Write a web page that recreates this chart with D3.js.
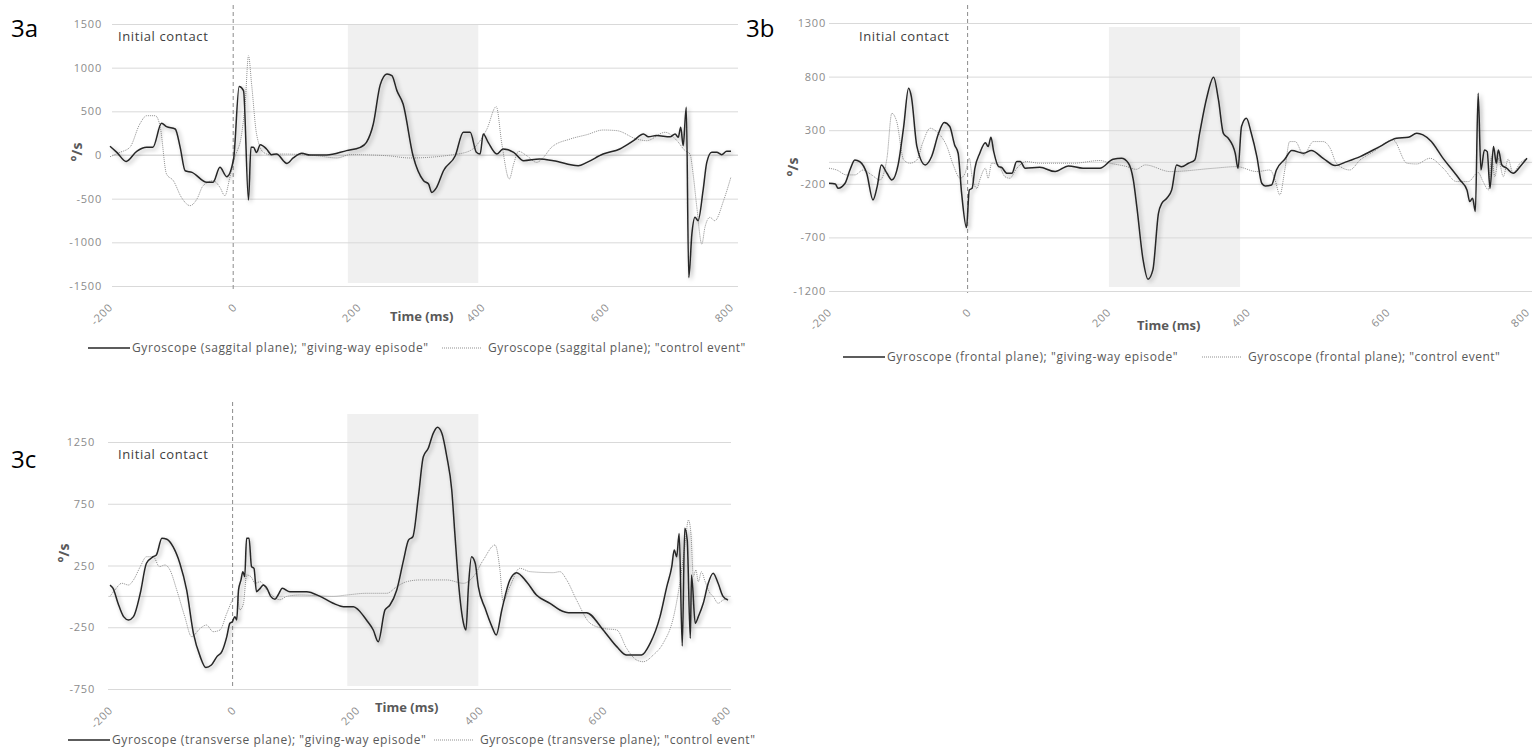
<!DOCTYPE html>
<html>
<head>
<meta charset="utf-8">
<script src="https://cdn.jsdelivr.net/npm/d3@7"></script>
<style>
  body { margin: 0; background: #fff; }
  svg text { font-family: "Open Sans", sans-serif; }
</style>
</head>
<body>
<div id="chart"></div>
<script>
const width = 1533;
const height = 750;

// x axis (ms) and y ticks (deg/s)
const xTicks = [-200, 0, 200, 400, 600, 800];
const yTicksA = [-1500, -1000, -500, 0, 500, 1000, 1500];
const yTicksB = [-1200, -700, -200, 300, 800, 1300];
const yTicksC = [-750, -250, 250, 750, 1250];

// giving-way window (ms) and its vertical extent (deg/s)
const shadeA = [183, 393, -1466, 1489];
const shadeB = [201, 389, -1163, 1263];
const shadeC = [184, 396, -726, 1477];

// [time ms, deg/s]
const sagittalGiving = [[-200,100],[-189,30],[-174,-73],[-157,42],[-141,88],[-131,88],[-117,363],[-109,325],[-95,298],[-87,88],[-79,-180],[-68,-199],[-44,-313],[-34,-313],[-23,-141],[-12,-248],[-1,-46],[8,783],[15,737],[23,-516],[27,88],[31,88],[36,30],[42,118],[52,69],[60,4],[68,11],[85,-96],[95,-34],[109,19],[122,0],[149,0],[181,50],[203,88],[213,145],[224,355],[235,800],[246,928],[254,909],[262,737],[272,584],[288,-8],[305,-294],[313,-332],[318,-428],[326,-370],[337,-180],[356,-8],[369,260],[380,260],[390,31],[396,11],[401,241],[409,145],[423,11],[433,69],[450,31],[466,-65],[492,-46],[514,-65],[554,-122],[568,-84],[594,11],[621,69],[643,164],[659,241],[667,210],[680,222],[702,210],[710,241],[715,202],[719,317],[723,107],[728,546],[732,-1402],[737,-905],[742,-714],[747,-752],[755,-409],[761,-84],[769,31],[777,31],[785,4],[793,42],[800,42]];
const sagittalControl = [[-200,-20],[-184,30],[-168,88],[-152,355],[-141,450],[-127,450],[-119,317],[-109,-218],[-98,-294],[-85,-485],[-71,-580],[-60,-504],[-50,-351],[-34,-294],[-23,-370],[-15,-466],[-7,-256],[1,-27],[12,241],[18,623],[23,1138],[28,814],[36,241],[47,31],[58,4],[79,11],[133,-8],[165,-34],[187,4],[246,-8],[283,-34],[353,4],[380,50],[396,164],[407,298],[422,554],[431,126],[443,-275],[450,-103],[458,42],[471,-8],[487,-84],[498,-27],[511,88],[541,183],[568,233],[594,286],[616,279],[648,183],[664,164],[694,260],[713,164],[726,50],[734,11],[739,-218],[745,-600],[753,-1020],[758,-829],[766,-714],[774,-752],[788,-523],[800,-250]];

const frontalGiving = [[-200,-195],[-191,-201],[-187,-242],[-177,-195],[-170,-71],[-163,23],[-156,7],[-146,-102],[-137,-350],[-131,-226],[-125,-24],[-117,-102],[-110,-164],[-101,-24],[-93,334],[-86,691],[-82,613],[-74,147],[-62,-24],[-53,54],[-43,271],[-35,371],[-27,334],[-20,163],[-15,85],[-10,-288],[-3,-608],[1,-257],[5,-242],[9,-55],[16,85],[24,184],[28,147],[32,234],[36,100],[43,-40],[47,-46],[55,-102],[62,-102],[69,7],[74,7],[81,-55],[102,-46],[124,-86],[143,-33],[164,-55],[188,-55],[207,29],[219,38],[229,-8],[236,-164],[241,-413],[250,-910],[257,-1090],[264,-1003],[272,-475],[277,-381],[284,-335],[291,-257],[298,-24],[305,-40],[315,-8],[324,23],[331,271],[341,598],[351,794],[358,582],[365,271],[372,225],[382,85],[386,-55],[391,334],[398,411],[405,271],[413,54],[420,-195],[425,-220],[434,-211],[441,-71],[453,29],[463,110],[480,85],[491,110],[508,38],[525,-30],[542,7],[561,54],[589,147],[613,225],[630,234],[642,271],[651,256],[663,194],[678,54],[704,-164],[714,-257],[718,-366],[722,-335],[726,-459],[730,644],[734,-71],[739,116],[743,100],[747,-242],[752,147],[756,-8],[759,116],[764,-24],[771,-55],[780,-102],[792,-24],[800,38]];
const frontalControl = [[-200,-55],[-189,-71],[-175,-117],[-163,-117],[-151,-71],[-139,-117],[-127,-164],[-117,38],[-110,458],[-103,380],[-93,23],[-84,-8],[-74,23],[-66,178],[-55,318],[-46,287],[-31,147],[-22,-24],[-12,-148],[-5,-102],[1,38],[5,-133],[12,-242],[16,-164],[24,-55],[28,-148],[33,-8],[43,-24],[52,-133],[59,-148],[69,-55],[83,7],[102,-8],[150,-8],[188,17],[203,-8],[227,-40],[240,-65],[253,-24],[289,-86],[351,-55],[384,-40],[413,-86],[432,-71],[439,-164],[446,-304],[453,-71],[460,194],[468,194],[480,69],[494,194],[508,194],[518,132],[527,-8],[546,-71],[561,23],[580,100],[608,209],[628,-8],[642,-15],[661,38],[680,-55],[699,-179],[716,-179],[730,-95],[737,-179],[745,-257],[749,54],[754,-133],[759,38],[766,-133],[773,29],[780,-102],[790,-8],[800,38]];

const transverseGiving = [[-200,92],[-195,65],[-187,-56],[-178,-164],[-170,-191],[-162,-164],[-151,25],[-141,268],[-130,321],[-125,335],[-116,470],[-108,462],[-98,402],[-87,268],[-76,52],[-65,-299],[-54,-488],[-45,-575],[-36,-556],[-27,-488],[-19,-448],[-11,-326],[-6,-218],[-2,-205],[2,-164],[5,-191],[8,52],[12,133],[15,200],[18,160],[21,470],[25,470],[29,241],[33,227],[37,38],[43,65],[48,92],[54,65],[60,0],[67,-24],[72,11],[79,65],[91,38],[118,38],[140,0],[161,-56],[178,-83],[194,-83],[202,-110],[215,-191],[226,-272],[234,-367],[245,-110],[253,-70],[264,52],[275,294],[283,456],[290,483],[299,807],[307,1131],[315,1199],[323,1320],[330,1369],[337,1320],[345,1131],[353,861],[358,510],[364,106],[372,-218],[376,-272],[380,79],[385,321],[391,268],[396,79],[407,-97],[418,-245],[425,-313],[434,-110],[447,133],[458,192],[474,119],[490,11],[512,-56],[528,-110],[542,-132],[571,-132],[598,-272],[620,-407],[636,-475],[660,-475],[674,-380],[690,-164],[701,79],[709,241],[713,375],[717,321],[721,510],[726,-402],[730,551],[734,456],[739,-340],[741,173],[747,-218],[752,-164],[760,-56],[768,106],[776,187],[784,106],[792,0],[800,-30]];
const transverseControl = [[-200,0],[-192,52],[-181,106],[-170,92],[-162,133],[-151,241],[-141,321],[-130,321],[-120,241],[-111,254],[-103,214],[-92,52],[-79,-164],[-68,-326],[-54,-259],[-44,-232],[-33,-286],[-22,-272],[-11,-137],[0,-16],[6,0],[10,-110],[16,-56],[21,173],[28,160],[35,106],[43,119],[54,52],[64,0],[75,-27],[86,0],[108,11],[161,0],[183,11],[215,25],[248,25],[264,79],[280,119],[302,133],[345,133],[372,106],[388,160],[404,294],[423,416],[431,214],[436,-43],[447,79],[463,227],[480,200],[517,192],[528,200],[539,133],[555,-30],[577,-218],[598,-259],[620,-272],[636,-421],[652,-515],[663,-529],[679,-475],[695,-380],[712,-164],[722,106],[730,402],[736,618],[740,510],[744,160],[748,214],[752,119],[757,200],[763,119],[771,25],[776,0],[784,-56],[792,-30],[800,-16]];

const legendA = ['Gyroscope (saggital plane); "giving-way episode"', 'Gyroscope (saggital plane); "control event"'];
const legendB = ['Gyroscope (frontal plane); "giving-way episode"', 'Gyroscope (frontal plane); "control event"'];
const legendC = ['Gyroscope (transverse plane); "giving-way episode"', 'Gyroscope (transverse plane); "control event"'];

const panels = [
  { tag: '3a', tagX: 11, tagY: 37, x: [110, 731], grid: [112, 738], y: [286, 24], yDom: [-1500, 1500],
    yTicks: yTicksA, pad: 10, shade: shadeA, giving: sagittalGiving, control: sagittalControl,
    dashTop: 5, dashBot: 291, labX: 82, labY: 152, icX: 118, icY: 41, timeX: 390, timeY: 321,
    legend: legendA, legY: 348, leg1: 88, leg2: 442 },
  { tag: '3b', tagX: 746, tagY: 37, x: [829, 1527], grid: [829, 1532], y: [291, 23], yDom: [-1200, 1300],
    yTicks: yTicksB, pad: 3, shade: shadeB, giving: frontalGiving, control: frontalControl,
    dashTop: 5, dashBot: 293, labX: 798, labY: 167, icX: 859, icY: 41, timeX: 1137, timeY: 330,
    legend: legendB, legY: 357, leg1: 843, leg2: 1202 },
  { tag: '3c', tagX: 11, tagY: 468, x: [110, 728], grid: [108, 731], y: [689, 442], yDom: [-750, 1250],
    yTicks: yTicksC, pad: 13, shade: shadeC, giving: transverseGiving, control: transverseControl,
    dashTop: 402, dashBot: 688, labX: 69, labY: 553, icX: 118, icY: 459, timeX: 375, timeY: 712,
    legend: legendC, legY: 740, leg1: 68, leg2: 434 }
];

const svg = d3.select('#chart')
  .append('svg')
  .attr('width', width)
  .attr('height', height);

// soft shadow Excel puts under the solid line
const filter = svg.append('defs').append('filter')
  .attr('id', 'shadow')
  .attr('x', '-20%').attr('y', '-20%')
  .attr('width', '140%').attr('height', '140%');
filter.append('feDropShadow')
  .attr('dx', 2).attr('dy', 2)
  .attr('stdDeviation', 2)
  .attr('flood-color', '#000')
  .attr('flood-opacity', 0.35);

panels.forEach(function(p) {
  const g = svg.append('g');

  const xScale = d3.scaleLinear().domain([-200, 800]).range(p.x);
  const yScale = d3.scaleLinear().domain(p.yDom).range(p.y);

  // shaded giving-way window
  g.append('rect')
    .attr('x', xScale(p.shade[0]))
    .attr('y', yScale(p.shade[3]))
    .attr('width', xScale(p.shade[1]) - xScale(p.shade[0]))
    .attr('height', yScale(p.shade[2]) - yScale(p.shade[3]))
    .attr('fill', '#f0f0f0');

  // y axis + gridlines
  const yAxis = d3.axisLeft(yScale)
    .tickValues(p.yTicks)
    .tickSizeInner(-(p.grid[1] - p.grid[0]))
    .tickSizeOuter(0)
    .tickPadding(p.pad)
    .tickFormat(d => String(d));

  const ya = g.append('g')
    .attr('transform', 'translate(' + p.grid[0] + ',0)')
    .call(yAxis);
  ya.select('.domain').remove();
  ya.selectAll('line').attr('stroke', '#d9d9d9');
  ya.selectAll('text')
    .attr('fill', '#8c8c8c')
    .style('font-size', '11px')
    .style('letter-spacing', '0.8px');

  // horizontal axis line at 0
  g.append('line')
    .attr('x1', p.grid[0]).attr('x2', p.grid[1])
    .attr('y1', yScale(0)).attr('y2', yScale(0))
    .attr('stroke', '#d9d9d9');

  // x axis labels, rotated
  const xAxis = d3.axisBottom(xScale)
    .tickValues(xTicks)
    .tickSize(0)
    .tickFormat(d => String(d));

  const xa = g.append('g')
    .attr('transform', 'translate(0,' + p.y[0] + ')')
    .call(xAxis);
  xa.select('.domain').remove();
  xa.selectAll('text')
    .attr('fill', '#8c8c8c')
    .style('font-size', '11px')
    .style('letter-spacing', '0.8px')
    .attr('text-anchor', 'end')
    .attr('dy', null)
    .attr('y', null)
    .attr('transform', 'translate(3,22) rotate(-45)');

  // initial contact marker
  g.append('line')
    .attr('x1', xScale(0) - 1).attr('x2', xScale(0) - 1)
    .attr('y1', p.dashTop).attr('y2', p.dashBot)
    .attr('stroke', '#8c8c8c')
    .attr('stroke-dasharray', '4,3');

  const line = d3.line()
    .x(d => xScale(d[0]))
    .y(d => yScale(d[1]))
    .curve(d3.curveMonotoneX);

  g.append('path')
    .datum(p.control)
    .attr('d', line)
    .attr('fill', 'none')
    .attr('stroke', '#8f8f8f')
    .attr('stroke-width', 1)
    .attr('stroke-dasharray', '1,1');

  g.append('path')
    .datum(p.giving)
    .attr('d', line)
    .attr('fill', 'none')
    .attr('stroke', '#262626')
    .attr('stroke-width', 1.5)
    .attr('stroke-linejoin', 'round')
    .attr('filter', 'url(#shadow)');

  // texts
  g.append('text')
    .attr('x', p.tagX).attr('y', p.tagY)
    .style('font-size', '24px')
    .attr('fill', '#000')
    .text(p.tag);

  g.append('text')
    .attr('x', p.icX).attr('y', p.icY)
    .style('font-size', '13px')
    .style('letter-spacing', '0.6px')
    .attr('fill', '#404040')
    .text('Initial contact');

  g.append('text')
    .attr('transform', 'translate(' + p.labX + ',' + p.labY + ') rotate(-90)')
    .attr('text-anchor', 'middle')
    .style('font-size', '14px')
    .style('font-weight', 'bold')
    .attr('fill', '#595959')
    .text('°/s');

  g.append('text')
    .attr('x', p.timeX).attr('y', p.timeY)
    .style('font-size', '13px')
    .style('font-weight', 'bold')
    .attr('fill', '#595959')
    .text('Time (ms)');

  // legend
  const leg = g.append('g').attr('transform', 'translate(0,' + p.legY + ')');
  leg.append('line')
    .attr('x1', p.leg1).attr('x2', p.leg1 + 42)
    .attr('stroke', '#262626').attr('stroke-width', 1.5);
  leg.append('text')
    .attr('x', p.leg1 + 44).attr('dy', '0.35em')
    .style('font-size', '12px')
    .style('letter-spacing', '0.6px')
    .attr('fill', '#595959')
    .text(p.legend[0]);
  leg.append('line')
    .attr('x1', p.leg2).attr('x2', p.leg2 + 40)
    .attr('stroke', '#8f8f8f').attr('stroke-dasharray', '1,1');
  leg.append('text')
    .attr('x', p.leg2 + 46).attr('dy', '0.35em')
    .style('font-size', '12px')
    .style('letter-spacing', '0.5px')
    .attr('fill', '#595959')
    .text(p.legend[1]);
});
</script>
</body>
</html>
